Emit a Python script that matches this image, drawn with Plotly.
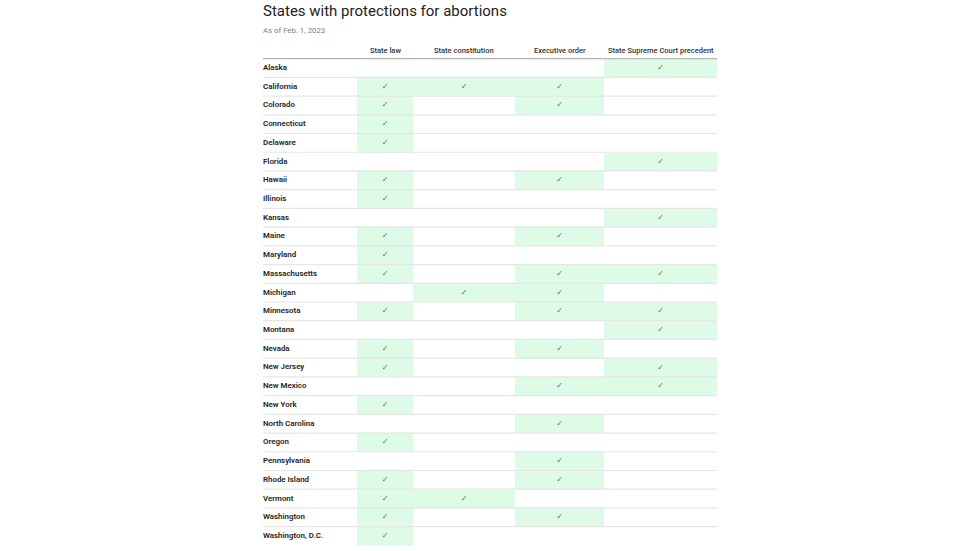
import plotly.graph_objects as go

# ---------------- data ----------------
states = ["Alaska", "California", "Colorado", "Connecticut", "Delaware", "Florida",
          "Hawaii", "Illinois", "Kansas", "Maine", "Maryland", "Massachusetts",
          "Michigan", "Minnesota", "Montana", "Nevada", "New Jersey", "New Mexico",
          "New York", "North Carolina", "Oregon", "Pennsylvania", "Rhode Island",
          "Vermont", "Washington", "Washington, D.C."]
columns = ["State law", "State constitution", "Executive order",
           "State Supreme Court precedent"]
state_law = [0, 1, 1, 1, 1, 0, 1, 1, 0, 1, 1, 1, 0, 1, 0, 1, 1, 0, 1, 0, 1, 0, 1, 1, 1, 1]
state_constitution = [0, 1, 0, 0, 0, 0, 0, 0, 0, 0, 0, 0, 1, 0, 0, 0, 0, 0, 0, 0, 0, 0, 0, 1, 0, 0]
executive_order = [0, 1, 1, 0, 0, 0, 1, 0, 0, 1, 0, 1, 1, 1, 0, 1, 0, 1, 0, 1, 0, 1, 1, 0, 1, 0]
supreme_court = [1, 0, 0, 0, 0, 1, 0, 0, 1, 0, 0, 1, 0, 1, 1, 0, 1, 1, 0, 0, 0, 0, 0, 0, 0, 0]
title = "States with protections for abortions"
subtitle = "As of Feb. 1, 2023"

# ---------------- layout constants ----------------
W, H = 980, 551
col_edges = [357, 413, 515, 604, 717]    # pixel edges of data columns
table_left = 263
row_px = 18.72
first_row_px = 68.0
GREEN = "#defbe8"
FONT = "Roboto"


def ypx(p):
    return (p - first_row_px) / row_px


series = [state_law, state_constitution, executive_order, supreme_court]
n = len(states)
z = [[series[c][r] for c in range(len(columns))] for r in range(n)]
col_centers = [(col_edges[i] + col_edges[i + 1]) / 2 for i in range(len(columns))]

fig = go.Figure()
fig.add_trace(go.Heatmap(
    z=z, x=col_edges, y=[i - 0.5 for i in range(n + 1)],
    colorscale=[[0, "rgba(255,255,255,0)"], [1, GREEN]], zmin=0, zmax=1,
    showscale=False, hoverinfo="skip"))

# state names
fig.add_trace(go.Scatter(
    x=[table_left] * n, y=list(range(n)), mode="text", text=states,
    textposition="middle right",
    textfont=dict(family=FONT, size=7.9, color="#222", weight=600),
    hoverinfo="skip", showlegend=False))

# check marks
cx, cy = [], []
for c in range(len(columns)):
    for r in range(n):
        if series[c][r]:
            cx.append(col_centers[c]); cy.append(r)
fig.add_trace(go.Scatter(
    x=cx, y=cy, mode="text", text=["✓"] * len(cx),
    textfont=dict(family="DejaVu Sans", size=8, color="#666"),
    hoverinfo="skip", showlegend=False))

shapes = [dict(type="line", x0=table_left, x1=col_edges[-1], y0=-0.5, y1=-0.5,
               line=dict(color="#b5b5b5", width=1.2), layer="above")]
for i in range(n - 1):
    shapes.append(dict(type="line", x0=table_left, x1=col_edges[-1],
                       y0=i + 0.5, y1=i + 0.5,
                       line=dict(color="#e6e6e6", width=1.2), layer="above"))

annotations = [
    dict(x=table_left - 2, y=ypx(10.5), text=title, showarrow=False, xanchor="left",
         yanchor="middle", font=dict(family=FONT, size=15.0, color="#222")),
    dict(x=table_left - 2, y=ypx(30), text=subtitle, showarrow=False, xanchor="left",
         yanchor="middle", font=dict(family=FONT, size=7.8, color="#808080")),
]
for c, name in enumerate(columns):
    annotations.append(dict(x=col_centers[c], y=ypx(50), text=name, showarrow=False,
                            xanchor="center", yanchor="middle",
                            font=dict(family=FONT, size=7.5, color="#333", weight=500)))

fig.update_layout(
    width=W, height=H, margin=dict(l=0, r=0, t=0, b=0, pad=0),
    paper_bgcolor="white", plot_bgcolor="white",
    xaxis=dict(range=[0, W], visible=False, fixedrange=True),
    yaxis=dict(range=[ypx(H), ypx(0)], visible=False, fixedrange=True),
    shapes=shapes, annotations=annotations, showlegend=False)

fig.write_html("out.html", config={"displayModeBar": False},
               post_script="document.body.style.margin='0';document.body.style.overflow='hidden';")
